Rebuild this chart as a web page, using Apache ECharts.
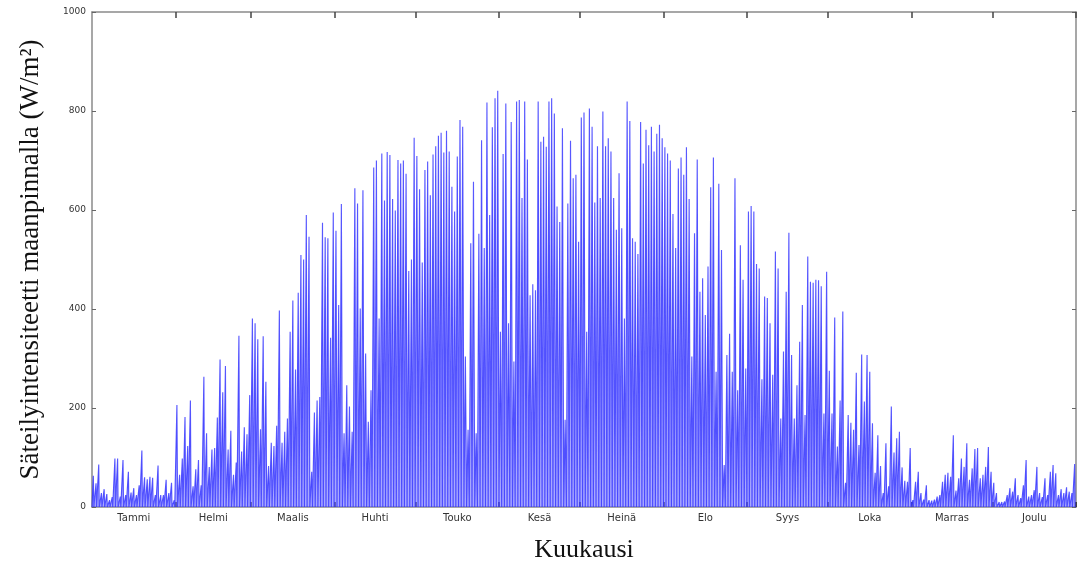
<!DOCTYPE html>
<html>
<head>
<meta charset="utf-8">
<script src="https://cdn.jsdelivr.net/npm/echarts@6/dist/echarts.min.js"></script>
<style>
  html, body { margin: 0; padding: 0; background: #fff; }
  #main { width: 1082px; height: 565px; }
</style>
</head>
<body>
<div id="main"></div>
<script>
// kuukaudet ja niiden pituudet
var months = ['Tammi', 'Helmi', 'Maalis', 'Huhti', 'Touko', 'Kesä', 'Heinä', 'Elo', 'Syys', 'Loka', 'Marras', 'Joulu'];
var monthDays = [31, 28, 31, 30, 31, 30, 31, 31, 30, 31, 30, 31];
// päivän säteilyjakson pituus tunteina (kuukausittain)
var daylight = [9, 11, 14, 18, 22, 22.5, 22.5, 20, 16, 13, 10, 8];

// päivittäiset huippuarvot (W/m2), luettu kuvasta
var jan = [63, 48, 86, 28, 36, 26, 14, 20, 98, 98, 21, 95, 24, 71, 29, 38, 24, 44, 114, 60, 56, 61, 59, 24, 84, 24, 24, 55, 28, 49, 14];
var feb = [206, 65, 98, 182, 123, 215, 42, 76, 95, 44, 263, 149, 81, 116, 119, 181, 298, 232, 285, 116, 154, 65, 90, 346, 112, 161, 147, 226];
var mar = [381, 371, 339, 157, 345, 253, 83, 130, 123, 164, 397, 130, 152, 179, 354, 417, 278, 433, 509, 500, 590, 546, 71, 191, 215, 222, 574, 545, 543, 342, 595];
var apr = [558, 408, 612, 149, 246, 203, 152, 644, 613, 401, 640, 310, 172, 236, 686, 700, 381, 714, 619, 717, 711, 622, 599, 701, 694, 700, 673, 477, 500, 746];
var may = [709, 642, 494, 681, 698, 630, 712, 729, 750, 756, 716, 760, 718, 647, 597, 708, 782, 768, 304, 156, 533, 657, 149, 552, 741, 523, 817, 590, 767, 826, 841];
var jun = [354, 713, 815, 371, 778, 294, 819, 822, 624, 819, 702, 428, 450, 438, 819, 738, 748, 728, 819, 826, 795, 607, 576, 765, 176, 613, 740, 664, 671, 536];
var jul = [787, 797, 354, 805, 768, 615, 729, 624, 799, 729, 745, 718, 624, 560, 674, 563, 381, 819, 780, 543, 536, 511, 778, 694, 762, 731, 768, 718, 754, 772, 745];
var aug = [727, 714, 700, 592, 523, 684, 706, 671, 727, 622, 304, 553, 702, 435, 462, 388, 486, 646, 706, 273, 653, 519, 85, 307, 350, 273, 664, 236, 529, 459, 280];
var sep = [597, 608, 597, 491, 482, 258, 425, 422, 371, 267, 516, 482, 179, 314, 435, 554, 307, 179, 246, 334, 408, 186, 506, 455, 453, 459, 458, 446, 189, 475];
var oct = [275, 189, 383, 122, 215, 395, 49, 186, 170, 156, 271, 125, 308, 213, 307, 273, 169, 69, 145, 83, 28, 129, 42, 203, 110, 139, 152, 80, 53, 51, 119];
var nov = [14, 51, 71, 28, 15, 44, 14, 13, 15, 21, 24, 51, 65, 69, 61, 145, 33, 58, 98, 81, 129, 55, 78, 117, 119, 58, 65, 81, 121, 71];
var dec = [49, 28, 10, 10, 11, 24, 38, 31, 58, 24, 18, 44, 95, 21, 24, 34, 81, 28, 20, 58, 24, 71, 85, 68, 24, 36, 28, 40, 31, 28, 87];

var peaks = [jan, feb, mar, apr, may, jun, jul, aug, sep, oct, nov, dec];

// kuukausirajat ja keskikohdat
var bounds = [];
var centers = [];
var acc = 0;
monthDays.forEach(function (n) {
    centers.push(acc + n / 2);
    acc += n;
    bounds.push(acc);
});

// jokainen päivä: nousu (0), keskipäivä (huippu), lasku (0)
var data = [];
var day = 0;
peaks.forEach(function (arr, m) {
    var half = daylight[m] / 48;
    arr.forEach(function (v) {
        data.push([day + 0.5 - half, 0]);
        data.push([day + 0.5, v]);
        data.push([day + 0.5 + half, 0]);
        day++;
    });
});
data.unshift([0, 0]);
data.push([365, 0]);

var chartDom = document.getElementById('main');
var myChart = echarts.init(chartDom);
var option;

var frame = { show: true, onZero: false, lineStyle: { color: '#8a8a8a', width: 1.5 } };

option = {
    animation: false,
    grid: { left: 92, right: 6, top: 12, bottom: 58, containLabel: false, outerBoundsMode: 'none' },
    xAxis: [{
        type: 'value',
        min: 0,
        max: 365,
        position: 'bottom',
        name: 'Kuukausi',
        nameLocation: 'middle',
        nameGap: 30,
        nameTextStyle: { fontFamily: 'Liberation Serif', fontSize: 26, color: '#111' },
        axisLine: frame,
        splitLine: { show: false },
        axisTick: { inside: true, length: 5, customValues: bounds, lineStyle: { color: '#222', width: 1.5 } },
        axisLabel: {
            customValues: centers,
            fontFamily: 'DejaVu Sans',
            fontSize: 10,
            color: '#333',
            margin: 6,
            formatter: function (v) {
                var i = centers.indexOf(v);
                return i >= 0 ? months[i] : '';
            }
        }
    }, {
        type: 'value',
        min: 0,
        max: 365,
        position: 'top',
        axisLine: frame,
        splitLine: { show: false },
        axisTick: { inside: true, length: 6, customValues: bounds, lineStyle: { color: '#444', width: 1.5 } },
        axisLabel: { show: false }
    }],
    yAxis: [{
        type: 'value',
        min: 0,
        max: 1000,
        interval: 200,
        name: 'Säteilyintensiteetti maanpinnalla (W/m²)',
        nameLocation: 'middle',
        nameGap: 48,
        nameTextStyle: { fontFamily: 'Liberation Serif', fontSize: 27, color: '#111' },
        axisLine: frame,
        splitLine: { show: false },
        axisTick: { inside: true, length: 4, lineStyle: { color: '#666' } },
        axisLabel: {
            fontFamily: 'DejaVu Sans', fontSize: 9, color: '#333', margin: 6,
            formatter: function (v) { return String(v); }
        }
    }, {
        type: 'value',
        min: 0,
        max: 1000,
        interval: 200,
        position: 'right',
        axisLine: frame,
        splitLine: { show: false },
        axisTick: { inside: true, length: 4, lineStyle: { color: '#666' } },
        axisLabel: { show: false }
    }],
    series: [{
        type: 'line',
        data: data,
        showSymbol: false,
        sampling: false,
        lineStyle: { color: '#3030ff', width: 1.15, opacity: 0.8 },
        areaStyle: { color: 'rgba(100,100,255,0.8)', origin: 'start' },
        z: 1
    }]
};

option && myChart.setOption(option);
</script>
</body>
</html>
